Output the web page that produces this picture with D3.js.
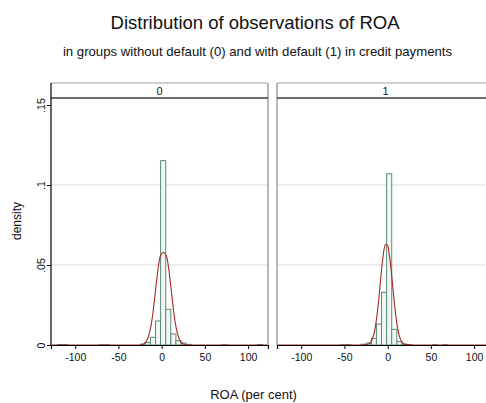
<!DOCTYPE html>
<html>
<head>
<meta charset="utf-8">
<script src="https://cdn.jsdelivr.net/npm/d3@7"></script>
<style>
  html, body { margin: 0; padding: 0; background: #fff; }
  svg { display: block; font-family: "Liberation Sans", Arial, sans-serif; }
</style>
</head>
<body>
<svg id="chart" width="486" height="403"></svg>
<script>
// ---- data ----
const groups = ["0", "1"];
const binWidth = 5.9;
// lower bin edges (ROA, per cent)
const binStarts0 = [-120.4, -114.5, -72.2, -66.3, -24.8, -18.9, -13.0, -7.1, -1.2, 4.7, 10.6, 16.5, 22.4, 28.3, 69.6, 110.9];
const density0   = [0.0003, 0.0003, 0.0002, 0.0002, 0.0005, 0.0015, 0.0048, 0.0150, 0.1152, 0.0223, 0.0069, 0.0027, 0.0012, 0.0004, 0.0002, 0.0003];
const binStarts1 = [-54.3, -48.4, -30.7, -24.8, -18.9, -13.0, -7.1, -1.2, 4.7, 10.6, 16.5, 22.4, 51.9, 63.7];
const density1   = [0.0002, 0.0002, 0.0005, 0.0012, 0.0042, 0.0131, 0.0329, 0.1070, 0.0098, 0.0021, 0.0005, 0.0003, 0.0002, 0.0002];
// overlaid normal density curve, read at these ROA values
const curveX0 = [-128, -38, -28, -24, -20, -16, -14, -12, -10, -8, -6, -4, -2, 0, 2, 4, 6, 8, 10, 12, 14, 16, 18, 20, 22, 24, 26, 28, 32, 38, 48, 123];
const curveY0 = [0, 0, 0.00002, 0.00016, 0.00096, 0.0042, 0.0077, 0.0131, 0.0205, 0.0297, 0.0395, 0.0484, 0.0547, 0.0570, 0.0580, 0.0570, 0.0547, 0.0484, 0.0395, 0.0297, 0.0205, 0.0131, 0.0077, 0.0042, 0.0021, 0.00096, 0.00040, 0.00016, 0.00002, 0, 0, 0];
const curveX1 = [-128, -40, -30, -26, -22, -18, -16, -14, -12, -10, -8, -6, -4, -2, 0, 2, 4, 6, 8, 10, 12, 14, 16, 18, 20, 24, 30, 40, 123];
const curveY1 = [0, 0, 0.00001, 0.00008, 0.00064, 0.0033, 0.0066, 0.0121, 0.0200, 0.0302, 0.0417, 0.0524, 0.0602, 0.0630, 0.0622, 0.0560, 0.0470, 0.0360, 0.0250, 0.0160, 0.0090, 0.0048, 0.0022, 0.0010, 0.0004, 0.00005, 0, 0, 0];
const xTicks = [-100, -50, 0, 50, 100];
const yTicks = [0, 0.05, 0.1, 0.15];
const yTickLabels = ["0", ".05", ".1", ".15"];
const gridTicks = [0.05, 0.1];
const title = "Distribution of observations of ROA";
const subtitle = "in groups without default (0) and with default (1) in credit payments";
const xTitle = "ROA (per cent)";
const yTitle = "density";

// ---- layout ----
const svg = d3.select("#chart");
const panels = [
  { key: groups[0], left: 51, right: 268, starts: binStarts0, dens: density0, cx: curveX0, cy: curveY0 },
  { key: groups[1], left: 277, right: 494, starts: binStarts1, dens: density1, cx: curveX1, cy: curveY1 }
];
const plotTop = 98, plotBottom = 345, stripTop = 83;
const y = d3.scaleLinear().domain([0, (plotBottom - plotTop) / 1600]).range([plotBottom, plotTop]);

const barStroke = "#5a8a79";
const barFill = "#f1f7f4";
const curveColor = "#a52a22";

panels.forEach((p, i) => {
  const x = d3.scaleLinear().domain([-128, 123]).range([p.left, p.right]);
  const g = svg.append("g");

  // grid lines
  g.selectAll("line.grid").data(gridTicks).join("line")
    .attr("x1", p.left).attr("x2", p.right)
    .attr("y1", d => y(d)).attr("y2", d => y(d))
    .attr("stroke", "#dcdcdc").attr("stroke-width", 1);

  // bars
  const bins = p.starts.map((s, j) => ({ x0: s, x1: s + binWidth, d: p.dens[j] }));
  g.selectAll("rect.bar").data(bins).join("rect")
    .attr("x", d => x(d.x0)).attr("width", d => x(d.x1) - x(d.x0))
    .attr("y", d => y(d.d)).attr("height", d => y(0) - y(d.d))
    .attr("fill", barFill).attr("stroke", barStroke).attr("stroke-width", 1);

  // density curve
  const pts = p.cx.map((v, j) => [v, p.cy[j]]);
  g.append("path").datum(pts)
    .attr("d", d3.line().x(d => x(d[0])).y(d => y(d[1])).curve(d3.curveMonotoneX))
    .attr("fill", "none").attr("stroke", curveColor).attr("stroke-width", 1.1);

  // panel frame (gray)
  g.append("line").attr("x1", p.right).attr("x2", p.right).attr("y1", stripTop).attr("y2", plotBottom)
    .attr("stroke", "#a8a8a8").attr("stroke-width", 1.6);
  if (i > 0) {
    g.append("line").attr("x1", p.left).attr("x2", p.left).attr("y1", stripTop).attr("y2", plotBottom)
      .attr("stroke", "#a8a8a8").attr("stroke-width", 1.6);
  }
  // strip
  g.append("line").attr("x1", p.left).attr("x2", p.right).attr("y1", stripTop).attr("y2", stripTop)
    .attr("stroke", "#a0a0a0").attr("stroke-width", 1);
  g.append("line").attr("x1", p.left).attr("x2", p.right).attr("y1", plotTop).attr("y2", plotTop)
    .attr("stroke", "#404040").attr("stroke-width", 1.3);
  g.append("text").attr("x", (x(-128) + x(123)) / 2).attr("y", 95)
    .attr("text-anchor", "middle").attr("font-size", 11).attr("fill", "#111").text(p.key);

  // x axis
  const xa = g.append("g").attr("transform", `translate(0,${plotBottom})`)
    .call(d3.axisBottom(x).tickValues(xTicks).tickSize(4).tickPadding(5).tickFormat(d => String(d)));
  xa.select(".domain").attr("stroke", "#000").attr("stroke-width", 1.2);
  xa.selectAll(".tick line").attr("stroke", "#000");
  xa.selectAll("text").attr("font-size", 10.5).attr("fill", "#111").attr("font-family", "Liberation Sans, Arial, sans-serif");

  // y axis (left panel only)
  if (i === 0) {
    const ya = g.append("g").attr("transform", `translate(${p.left},0)`)
      .call(d3.axisLeft(y).tickValues(yTicks).tickSize(4).tickFormat((d, k) => yTickLabels[k]));
    ya.select(".domain").attr("stroke", "#000").attr("stroke-width", 1.2).attr("d", `M0,${stripTop}V${plotBottom}`);
    ya.selectAll(".tick line").attr("stroke", "#000");
    ya.selectAll(".tick text")
      .attr("x", null).attr("dy", null)
      .attr("transform", "translate(-6,0) rotate(-90)")
      .attr("text-anchor", "middle").attr("font-size", 10.5).attr("fill", "#111")
      .attr("font-family", "Liberation Sans, Arial, sans-serif");
  }
});

// titles
svg.append("text").attr("x", 255).attr("y", 29).attr("text-anchor", "middle")
  .attr("font-size", 18.5).attr("fill", "#111").text(title);
svg.append("text").attr("x", 257.5).attr("y", 56).attr("text-anchor", "middle")
  .attr("font-size", 13.2).attr("fill", "#111").text(subtitle);
svg.append("text").attr("x", 253.5).attr("y", 399).attr("text-anchor", "middle")
  .attr("font-size", 13).attr("fill", "#111").text(xTitle);
svg.append("text").attr("transform", "translate(21,221) rotate(-90)").attr("text-anchor", "middle")
  .attr("font-size", 12).attr("fill", "#111").text(yTitle);
</script>
</body>
</html>
